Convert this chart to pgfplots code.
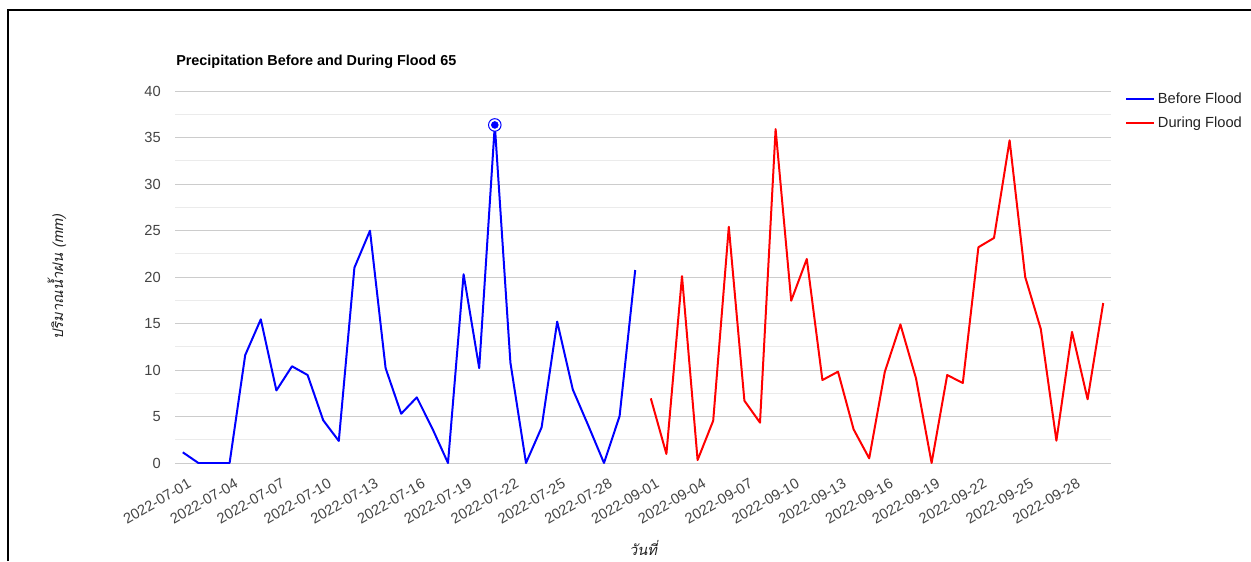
\documentclass[border=0pt]{standalone}
\usepackage{fontspec}
\setmainfont{Liberation Sans}
\newfontfamily\thaifont[Script=Thai]{Loma}
\usepackage{pgfplots}
\pgfplotsset{compat=1.18}
\definecolor{majgrid}{HTML}{CCCCCC}
\definecolor{mingrid}{HTML}{EBEBEB}
\definecolor{basecol}{HTML}{333333}
\definecolor{ticktxt}{HTML}{444444}
\definecolor{legtxt}{HTML}{222222}
\definecolor{serA}{HTML}{0000FF}
\definecolor{serB}{HTML}{FF0000}
\begin{document}
\begin{tikzpicture}[x=0.75pt,y=0.75pt]
\begin{axis}[
  at={(0,0)}, anchor=south west,
  scale only axis, width=702pt, height=279pt,
  xmin=-0.5, xmax=59.5, ymin=0, ymax=40,
  axis line style={draw=none},
  major tick length=0pt, minor tick length=0pt,
  ytick={0,5,...,40},
  minor y tick num=1,
  ymajorgrids, yminorgrids,
  major grid style={color=majgrid, line width=0.75pt},
  minor grid style={color=mingrid, line width=0.75pt},
  extra y ticks={0},
  extra y tick labels={},
  extra y tick style={grid style={color=basecol, line width=0.9pt}},
  xtick={0,3,...,57},
  xticklabels={2022-07-01,2022-07-04,2022-07-07,2022-07-10,2022-07-13,2022-07-16,2022-07-19,2022-07-22,2022-07-25,2022-07-28,2022-09-01,2022-09-04,2022-09-07,2022-09-10,2022-09-13,2022-09-16,2022-09-19,2022-09-22,2022-09-25,2022-09-28},
  xticklabel style={xshift=5.25pt, yshift=-14.5pt, rotate=30, anchor=east, inner sep=0pt, font=\fontsize{11}{13}\selectfont, text=ticktxt},
  yticklabel style={inner sep=0pt, xshift=-10.5pt, font=\fontsize{11}{13}\selectfont, text=ticktxt},
  /pgf/number format/assume math mode=true,
  xlabel={\thaifont\itshape วันที่},
  xlabel style={at={(rel axis cs:0.5,0)}, anchor=center, yshift=-64pt, font=\fontsize{11}{13}\selectfont, text=legtxt},
  ylabel={\thaifont\itshape ปริมาณน้ำฝน (mm)},
  ylabel style={at={([xshift=-88.5pt]rel axis cs:0,0.5)}, anchor=center, font=\fontsize{11}{13}\selectfont, text=legtxt},
  legend style={draw=none, fill=none, at={(rel axis cs:1,1)}, anchor=north west, xshift=10.5pt, yshift=1pt, font=\fontsize{11}{13}\selectfont, text=legtxt, row sep=4.5pt, inner sep=0pt, nodes={inner sep=2pt}},
  legend cell align=left,
  legend image code/.code={\draw[#1] (0pt,0pt) -- (21pt,0pt);},
]
\addplot[serA, line width=1.5pt, line join=round] coordinates {
(0,1.15) (1,0) (2,0) (3,0) (4,11.6) (5,15.45) (6,7.8) (7,10.4) (8,9.46) (9,4.6)
(10,2.37) (11,21.0) (12,24.98) (13,10.2) (14,5.3) (15,7.06) (16,3.7) (17,0) (18,20.3) (19,10.2)
(20,36.35) (21,10.8) (22,0) (23,3.83) (24,15.2) (25,7.9) (26,4.0) (27,0) (28,5.05) (29,20.75)
};
\addlegendentry{Before Flood}
\addplot[serB, line width=1.5pt, line join=round] coordinates {
(30,6.95) (31,0.97) (32,20.1) (33,0.32) (34,4.55) (35,25.4) (36,6.7) (37,4.34) (38,35.9) (39,17.45)
(40,21.94) (41,8.92) (42,9.82) (43,3.62) (44,0.5) (45,9.8) (46,14.9) (47,9.1) (48,0) (49,9.46)
(50,8.6) (51,23.2) (52,24.2) (53,34.7) (54,20.0) (55,14.4) (56,2.4) (57,14.1) (58,6.85) (59,17.2)
};
\addlegendentry{During Flood}
\addplot[forget plot, only marks, mark=*, mark size=4.7pt, mark options={draw=serA, fill=white, line width=0.75pt}] coordinates {(20,36.35)};
\addplot[forget plot, only marks, mark=*, mark size=2.6pt, mark options={draw=serA, fill=serA}] coordinates {(20,36.35)};
\end{axis}
\node[anchor=west, inner sep=0pt, font=\bfseries\fontsize{10.8}{12}\selectfont] at (1,401) {Precipitation Before and During Flood 65};
\pgfresetboundingbox
\useasboundingbox (-175,-98) rectangle (1076,463);
\draw[line width=1.5pt] (-167,-98) -- (-167,453) -- (1076,453);
\end{tikzpicture}
\end{document}
